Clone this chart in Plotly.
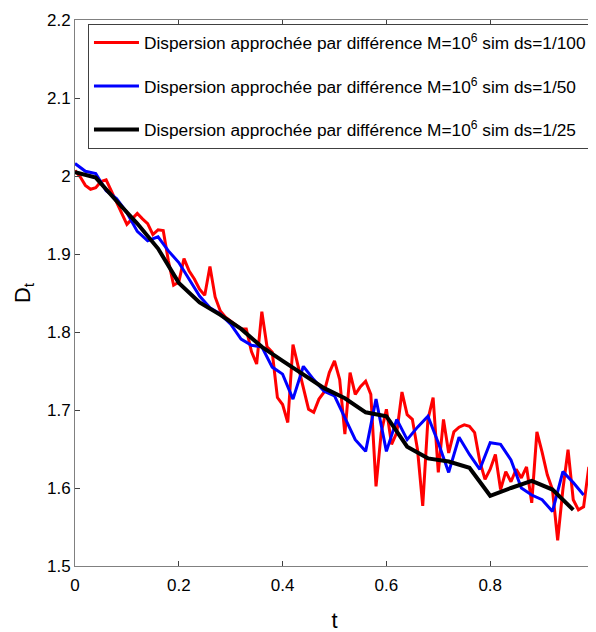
import plotly.graph_objects as go

# ---- data ----
t_red = [i / 100 for i in range(100)]
d_red = [2.007, 1.999, 1.988, 1.983, 1.985, 1.993, 1.995, 1.981, 1.967, 1.952,
         1.938, 1.945, 1.952, 1.945, 1.939, 1.925, 1.931, 1.930, 1.891, 1.860,
         1.864, 1.894, 1.878, 1.868, 1.855, 1.847, 1.884, 1.845, 1.827, 1.819,
         1.814, 1.810, 1.804, 1.804, 1.775, 1.759, 1.826, 1.781, 1.774, 1.716,
         1.707, 1.684, 1.784, 1.756, 1.730, 1.701, 1.697, 1.714, 1.723, 1.748,
         1.763, 1.739, 1.669, 1.748, 1.720, 1.730, 1.737, 1.720, 1.602, 1.671,
         1.701, 1.656, 1.671, 1.723, 1.694, 1.688, 1.649, 1.577, 1.688, 1.716,
         1.620, 1.688, 1.645, 1.672, 1.678, 1.681, 1.679, 1.671, 1.634, 1.611,
         1.624, 1.643, 1.598, 1.621, 1.608, 1.624, 1.613, 1.627, 1.581, 1.672,
         1.646, 1.617, 1.598, 1.533, 1.598, 1.649, 1.585, 1.572, 1.576, 1.627]

t_blue = [i / 50 for i in range(50)]
d_blue = [2.016, 2.006, 2.003, 1.981, 1.971, 1.953, 1.929, 1.917, 1.922, 1.904,
          1.889, 1.868, 1.846, 1.831, 1.823, 1.810, 1.791, 1.783, 1.781, 1.755,
          1.746, 1.714, 1.756, 1.739, 1.724, 1.718, 1.690, 1.662, 1.647, 1.714,
          1.647, 1.688, 1.662, 1.678, 1.692, 1.658, 1.620, 1.665, 1.643, 1.624,
          1.658, 1.656, 1.636, 1.600, 1.591, 1.585, 1.570, 1.621, 1.607, 1.591]

t_black = [i / 25 for i in range(25)]
d_black = [2.005, 1.998, 1.968, 1.939, 1.907, 1.863, 1.838, 1.822, 1.804, 1.781,
           1.763, 1.745, 1.728, 1.715, 1.697, 1.692, 1.653, 1.638, 1.634, 1.626,
           1.590, 1.600, 1.609, 1.598, 1.572]

names = [
    "Dispersion approchée par différence M=10<sup>6</sup> sim ds=1/100",
    "Dispersion approchée par différence M=10<sup>6</sup> sim ds=1/50",
    "Dispersion approchée par différence M=10<sup>6</sup> sim ds=1/25",
]
colors = ["#ff0000", "#0000ff", "#000000"]
widths = [3, 3, 4]

x_ticks = [0, 0.2, 0.4, 0.6, 0.8, 1]
x_labels = ["0", "0.2", "0.4", "0.6", "0.8", "1"]
y_ticks = [1.5, 1.6, 1.7, 1.8, 1.9, 2.0, 2.1, 2.2]
y_labels = ["1.5", "1.6", "1.7", "1.8", "1.9", "2", "2.1", "2.2"]

fig = go.Figure()
for i, (tx, dy) in enumerate([(t_red, d_red), (t_blue, d_blue), (t_black, d_black)]):
    fig.add_trace(go.Scatter(
        x=tx, y=dy, mode="lines", name=names[i], legendgroup=f"g{i}",
        line=dict(color=colors[i], width=widths[i]),
    ))

axis_common = dict(
    showline=True, linecolor="#808080", linewidth=1, mirror="ticks",
    ticks="inside", ticklen=5, tickcolor="#404040", showgrid=False,
    zeroline=False, automargin=False,
    tickfont=dict(family="Liberation Sans, Arial", size=17, color="#000"),
)

fig.update_layout(
    width=596, height=632,
    margin=dict(l=67, r=10, t=12, b=74),
    paper_bgcolor="white", plot_bgcolor="white",
    showlegend=True,
    legend=dict(
        x=0.025, y=0.993, xanchor="left", yanchor="top",
        bgcolor="white", bordercolor="#404040", borderwidth=1,
        font=dict(family="Liberation Sans, Arial", size=17.3, color="#000"),
        tracegroupgap=18, traceorder="grouped", itemwidth=45,
    ),
    xaxis=dict(range=[0, 1], tickvals=x_ticks, ticktext=x_labels,
               ticklabelstandoff=4,
               title=dict(text="t", font=dict(family="Liberation Sans", size=22, color="#000"), standoff=18),
               **axis_common),
    yaxis=dict(range=[1.5, 2.2], tickvals=y_ticks, ticktext=y_labels,
               title=dict(text="D<sub>t</sub>", font=dict(family="Liberation Sans", size=22, color="#000"), standoff=10),
               **axis_common),
)

fig.write_html("out.html")
